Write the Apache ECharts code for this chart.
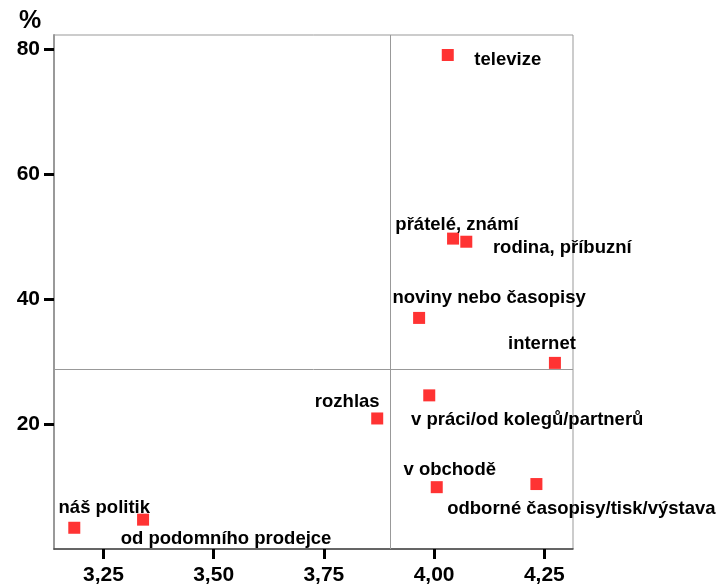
<!DOCTYPE html>
<html>
<head>
<meta charset="utf-8">
<script src="https://cdn.jsdelivr.net/npm/echarts@6/dist/echarts.min.js"></script>
<style>html,body{margin:0;padding:0;background:#fff}#c{width:718px;height:587px}</style>
</head>
<body>
<div id="c"></div>
<script>
const names = ['televize','přátelé, známí','rodina, příbuzní','noviny nebo časopisy','internet','v práci/od kolegů/partnerů','rozhlas','v obchodě','odborné časopisy/tisk/výstava','náš politik','od podomního prodejce'];
const xValues = [4.031, 4.043, 4.073, 3.966, 4.274, 3.989, 3.871, 4.006, 4.232, 3.184, 3.340];
const yValues = [79.1, 49.7, 49.2, 37.0, 29.8, 24.6, 20.9, 9.9, 10.4, 3.4, 4.7];
const xTicks = [3.25, 3.50, 3.75, 4.00, 4.25];
const yTicks = [20, 40, 60, 80];
const refX = 3.904;
const refY = 28.8;
// label offsets (px) of label centre relative to each marker centre
const labelOffsets = [[60,5],[4,-14],[96,6],[70,-20],[-13,-19],[98,25],[-30,-17],[13,-17],[45,25],[30,-20],[83,19]];

const FONT = "'Liberation Sans', Arial, sans-serif";
const SYM = 12;
const series = names.map((n, i) => ({
  type: 'scatter',
  name: n,
  symbol: 'rect',
  symbolSize: SYM,
  itemStyle: { color: '#ff3333', opacity: 1 },
  data: [[xValues[i], yValues[i]]],
  label: {
    show: true,
    position: [SYM / 2 + labelOffsets[i][0], SYM / 2 + labelOffsets[i][1]],
    align: 'center', verticalAlign: 'middle',
    formatter: () => n,
    color: '#000', fontFamily: FONT, fontWeight: 'bold', fontSize: 18.5
  },
  z: 3
}));
series.push({
  type: 'scatter', data: [], silent: true,
  markLine: {
    silent: true, symbol: 'none', label: { show: false },
    lineStyle: { color: '#999', width: 1, type: 'solid' },
    data: [{ xAxis: refX }, { yAxis: refY }]
  }
});

const chart = echarts.init(document.getElementById('c'));
chart.setOption({
  animation: false,
  grid: { left: 54, top: 35, right: 145, bottom: 38, show: true, borderColor: '#999', borderWidth: 1 },
  xAxis: {
    type: 'value', min: 3.138, max: 4.315,
    splitLine: { show: false },
    axisLine: { show: true, lineStyle: { color: '#444', width: 1.5 } },
    axisTick: { show: true, length: 10, customValues: xTicks, lineStyle: { color: '#000', width: 3 } },
    axisLabel: { customValues: xTicks, margin: 16, color: '#000', fontFamily: FONT, fontWeight: 'bold', fontSize: 21,
      formatter: v => v.toFixed(2).replace('.', ',') }
  },
  yAxis: {
    type: 'value', min: 0, max: 82.3,
    splitLine: { show: false },
    axisLine: { show: true, lineStyle: { color: '#999', width: 2 } },
    axisTick: { show: true, length: 10, customValues: yTicks, lineStyle: { color: '#000', width: 3 } },
    axisLabel: { customValues: yTicks, margin: 14, color: '#000', fontFamily: FONT, fontWeight: 'bold', fontSize: 21 }
  },
  graphic: [{ type: 'text', left: 19, top: 9, style: { text: '%', font: "bold 25px 'Liberation Sans', Arial, sans-serif", fill: '#000' } }],
  series: series
});
</script>
</body>
</html>
